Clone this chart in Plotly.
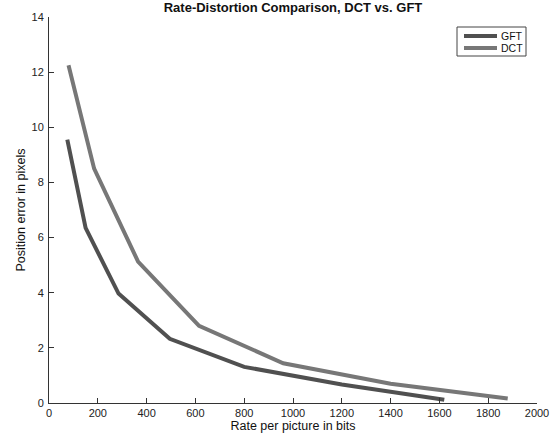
import plotly.graph_objects as go

gft_rate = [75, 150, 285, 495, 800, 1200, 1620]
gft_err = [9.55, 6.35, 3.97, 2.33, 1.31, 0.67, 0.12]
dct_rate = [80, 185, 365, 615, 960, 1400, 1880]
dct_err = [12.25, 8.5, 5.13, 2.8, 1.44, 0.7, 0.16]

series_names = ["GFT", "DCT"]
series_colors = ["#505050", "#777777"]

W, H = 559, 439
L, R, T, B = 49, 22, 17, 36
PW, PH = W - L - R, H - T - B


def px(x):
    return (x - L) / PW


def py(y):
    return (H - B - y) / PH


fig = go.Figure()
fig.add_trace(go.Scatter(x=gft_rate, y=gft_err, mode="lines", name=series_names[0],
                         line=dict(color=series_colors[0], width=4)))
fig.add_trace(go.Scatter(x=dct_rate, y=dct_err, mode="lines", name=series_names[1],
                         line=dict(color=series_colors[1], width=4)))

# compact MATLAB-style legend box
shapes = [dict(type="rect", xref="paper", yref="paper",
               x0=px(457), x1=px(526), y0=py(56), y1=py(27),
               line=dict(color="#444444", width=1), fillcolor="white", layer="above")]
annotations = []
for i, (nm, col) in enumerate(zip(series_names, series_colors)):
    yy = 36 + 12 * i
    shapes.append(dict(type="line", xref="paper", yref="paper",
                       x0=px(464), x1=px(497), y0=py(yy), y1=py(yy),
                       line=dict(color=col, width=4), layer="above"))
    annotations.append(dict(text=nm, xref="paper", yref="paper", x=px(499), y=py(yy),
                            xanchor="left", yanchor="middle", showarrow=False,
                            font=dict(size=10.5, color="#111111")))

font = "Liberation Sans, Arial, sans-serif"
fig.update_layout(
    width=W, height=H,
    margin=dict(l=L, r=R, t=T, b=B, autoexpand=False),
    paper_bgcolor="white", plot_bgcolor="white",
    font=dict(family=font, size=11, color="#222222"),
    title=dict(text="<b>Rate-Distortion Comparison, DCT vs. GFT</b>",
               x=0.5, xref="paper", y=1 - 7 / H, yref="container", yanchor="middle",
               font=dict(size=13, color="#111111")),
    showlegend=False,
    shapes=shapes,
    annotations=annotations,
    xaxis=dict(range=[0, 2000], dtick=200, tick0=0, ticks="inside", ticklen=5,
               tickcolor="#333333", showline=True, linecolor="#333333",
               linewidth=1, showgrid=False, zeroline=False, mirror=False,
               ticklabelstandoff=0, automargin=False,
               tickfont=dict(size=11, color="#222222"),
               title=dict(text="Rate per picture in bits", standoff=3,
                          font=dict(size=12.5, color="#111111"))),
    yaxis=dict(range=[0, 14], dtick=2, tick0=0, ticks="inside", ticklen=5,
               tickcolor="#333333", showline=True, linecolor="#333333",
               linewidth=1, showgrid=False, zeroline=False, mirror=False,
               ticklabelstandoff=2, automargin=False,
               tickfont=dict(size=11, color="#222222"),
               title=dict(text="Position error in pixels", standoff=3,
                          font=dict(size=12.5, color="#111111"))),
)
fig.write_html("out.html",
               config={"displayModeBar": False},
               post_script="document.body.style.margin='0';"
                           "document.body.style.padding='0';")
